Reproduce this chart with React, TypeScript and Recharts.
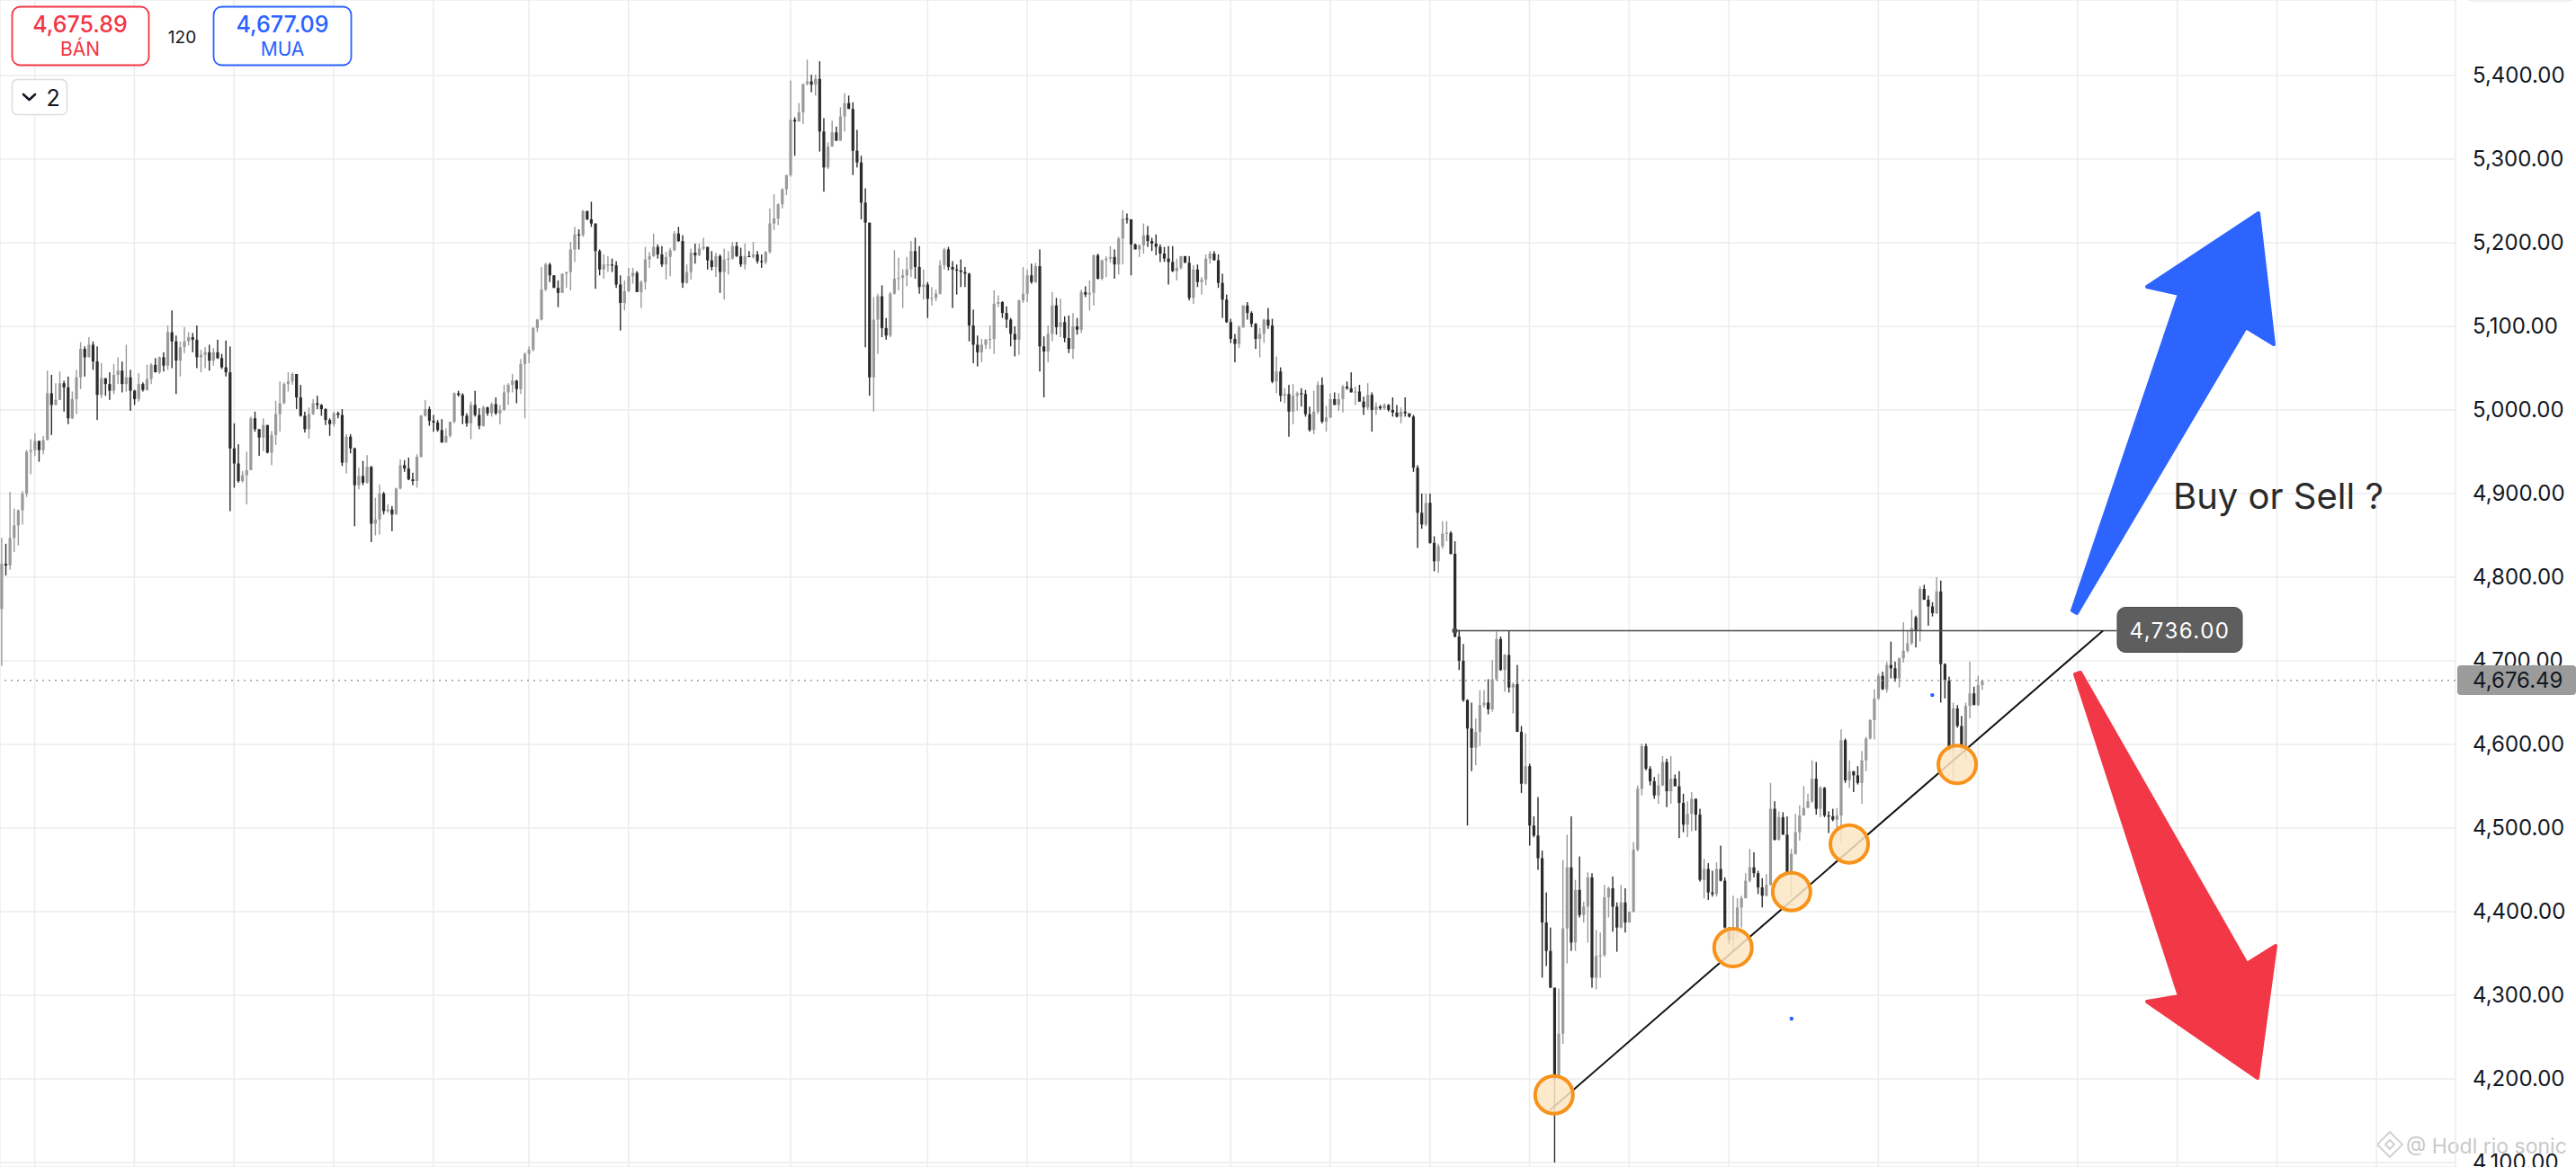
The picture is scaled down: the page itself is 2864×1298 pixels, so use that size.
import React from 'react';
import {
  ComposedChart,
  Bar,
  XAxis,
  YAxis,
  CartesianGrid,
  ReferenceLine,
  ReferenceDot,
} from 'recharts';

// Hourly gold candles, [open, high, low, close]
// first leg: rally from 4,700 to the 5,100 area
const candlesA = [
  [4762, 4847, 4694, 4816], [4816, 4840, 4802, 4814], [4814, 4902, 4809, 4847], [4847, 4882, 4830, 4862],
  [4862, 4881, 4838, 4880], [4880, 4903, 4863, 4900], [4900, 4952, 4896, 4950], [4950, 4965, 4923, 4952],
  [4952, 4972, 4945, 4963], [4963, 4963, 4938, 4952], [4952, 4969, 4947, 4964], [4964, 5047, 4964, 5020],
  [5020, 5042, 4970, 5006], [5006, 5032, 5006, 5012], [5012, 5046, 5012, 5032], [5032, 5035, 4998, 5027],
  [5027, 5040, 4983, 4990], [4990, 5022, 4989, 5013], [5013, 5048, 4995, 5039], [5039, 5081, 5025, 5073],
  [5073, 5076, 5040, 5063], [5063, 5087, 5063, 5078], [5078, 5082, 5048, 5058], [5058, 5076, 4988, 5018],
  [5018, 5056, 5014, 5038], [5038, 5038, 5017, 5031], [5031, 5045, 5012, 5023], [5023, 5055, 5019, 5042],
  [5042, 5063, 5031, 5047], [5047, 5058, 5021, 5031], [5031, 5078, 5022, 5039], [5039, 5048, 4999, 5023],
  [5023, 5024, 5006, 5013], [5013, 5044, 5010, 5031], [5031, 5033, 5022, 5024], [5024, 5054, 5023, 5037],
  [5037, 5056, 5031, 5054], [5054, 5062, 5045, 5045], [5045, 5064, 5043, 5063], [5063, 5069, 5046, 5053],
  [5053, 5101, 5048, 5093], [5093, 5119, 5050, 5082], [5082, 5089, 5019, 5059], [5059, 5082, 5040, 5075],
  [5075, 5099, 5068, 5082], [5082, 5093, 5077, 5087], [5087, 5092, 5069, 5084], [5084, 5101, 5050, 5063],
  [5063, 5072, 5045, 5066], [5066, 5075, 5050, 5069], [5069, 5078, 5047, 5059], [5059, 5074, 5053, 5069],
  [5069, 5084, 5061, 5062], [5062, 5067, 5049, 5051], [5051, 5083, 5040, 5045], [5045, 5076, 4879, 4954],
  [4954, 4984, 4907, 4936], [4936, 4959, 4913, 4915], [4915, 4927, 4913, 4922], [4922, 4950, 4887, 4928],
  [4928, 4992, 4928, 4990], [4990, 4998, 4974, 4977], [4977, 4977, 4945, 4967], [4967, 4990, 4951, 4982],
  [4982, 4982, 4948, 4949], [4949, 4975, 4934, 4970], [4970, 5011, 4958, 4995], [4995, 5034, 4974, 5008],
  [5008, 5033, 5007, 5031], [5031, 5045, 5022, 5034], [5034, 5045, 5030, 5043], [5043, 5043, 5001, 5015],
  [5015, 5030, 4992, 4993], [4993, 4998, 4973, 4977], [4977, 5003, 4966, 4995], [4995, 5013, 4994, 5008],
  [5008, 5017, 5001, 5006], [5006, 5007, 4993, 5001], [5001, 5002, 4982, 4988], [4988, 4990, 4969, 4983],
  [4983, 4998, 4980, 4996], [4996, 4998, 4990, 4994], [4994, 5001, 4933, 4937],
];

// dip to 4,850 and climb to 5,200
const candlesB = [
  [4937, 4971, 4924, 4968], [4968, 4971, 4948, 4954], [4954, 4955, 4861, 4910], [4910, 4931, 4905, 4921],
  [4921, 4939, 4910, 4913], [4913, 4946, 4912, 4932], [4932, 4933, 4842, 4864], [4864, 4895, 4850, 4869],
  [4869, 4911, 4851, 4900], [4900, 4902, 4875, 4879], [4879, 4887, 4877, 4881], [4881, 4885, 4855, 4875],
  [4875, 4907, 4875, 4906], [4906, 4941, 4905, 4934], [4934, 4940, 4926, 4930], [4930, 4943, 4916, 4917],
  [4917, 4925, 4910, 4915], [4915, 4947, 4907, 4944], [4944, 4994, 4943, 4993], [4993, 5012, 4992, 5001],
  [5001, 5004, 4981, 4987], [4987, 4994, 4974, 4985], [4985, 4988, 4974, 4976], [4976, 4989, 4961, 4961],
  [4961, 4978, 4961, 4969], [4969, 4986, 4967, 4986], [4986, 5021, 4984, 5020], [5020, 5023, 5016, 5018],
  [5018, 5020, 4983, 4993], [4993, 4996, 4980, 4984], [4984, 5010, 4965, 5006], [5006, 5023, 4992, 4994],
  [4994, 5002, 4977, 4981], [4981, 5005, 4980, 5003], [5003, 5004, 4993, 4996], [4996, 5009, 4992, 5007],
  [5007, 5015, 4994, 4996], [4996, 5006, 4983, 5000], [5000, 5030, 4999, 5021], [5021, 5032, 5006, 5030],
  [5030, 5043, 5021, 5035], [5035, 5036, 5008, 5025], [5025, 5061, 5019, 5055], [5055, 5069, 4990, 5067],
  [5067, 5076, 5056, 5072], [5072, 5099, 5070, 5098], [5098, 5109, 5093, 5108], [5108, 5171, 5107, 5144],
  [5144, 5176, 5142, 5174], [5174, 5176, 5153, 5161], [5161, 5161, 5146, 5146], [5146, 5155, 5123, 5140],
  [5140, 5163, 5140, 5163], [5163, 5165, 5146, 5165], [5165, 5201, 5143, 5192], [5192, 5219, 5177, 5210],
  [5210, 5216, 5192, 5209], [5209, 5239, 5207, 5238], [5238, 5238, 5227, 5228], [5228, 5249, 5219, 5223],
  [5223, 5223, 5145, 5190], [5190, 5192, 5161, 5168], [5168, 5186, 5157, 5174], [5174, 5184, 5165, 5174],
  [5174, 5181, 5165, 5173], [5173, 5178, 5146, 5150], [5150, 5161, 5095, 5128], [5128, 5155, 5119, 5142],
  [5142, 5170, 5141, 5160], [5160, 5170, 5151, 5164], [5164, 5166, 5141, 5141], [5141, 5155, 5122, 5153],
  [5153, 5195, 5144, 5180], [5180, 5189, 5170, 5184], [5184, 5211, 5183, 5195], [5195, 5198, 5181, 5186],
  [5186, 5196, 5171, 5174], [5174, 5189, 5156, 5183], [5183, 5194, 5160, 5191], [5191, 5214, 5190, 5211],
];

// spike to 5,419 and the flush back to 5,000
const candlesC = [
  [5211, 5219, 5201, 5202], [5202, 5209, 5146, 5152], [5152, 5174, 5151, 5165], [5165, 5193, 5156, 5188],
  [5188, 5199, 5175, 5185], [5185, 5199, 5184, 5193], [5193, 5206, 5191, 5195], [5195, 5195, 5168, 5179],
  [5179, 5190, 5167, 5171], [5171, 5188, 5159, 5184], [5184, 5186, 5140, 5165], [5165, 5193, 5132, 5180],
  [5180, 5190, 5162, 5181], [5181, 5201, 5180, 5196], [5196, 5201, 5183, 5184], [5184, 5194, 5171, 5174],
  [5174, 5199, 5168, 5184], [5184, 5190, 5183, 5183], [5183, 5201, 5181, 5186], [5186, 5190, 5175, 5178],
  [5178, 5186, 5170, 5177], [5177, 5190, 5174, 5189], [5189, 5241, 5187, 5223], [5223, 5258, 5215, 5229],
  [5229, 5247, 5221, 5246], [5246, 5265, 5241, 5264], [5264, 5281, 5257, 5281], [5281, 5394, 5279, 5347],
  [5347, 5350, 5304, 5345], [5345, 5367, 5345, 5356], [5356, 5390, 5342, 5390], [5390, 5419, 5388, 5393],
  [5393, 5401, 5380, 5389], [5389, 5401, 5376, 5396], [5396, 5417, 5309, 5333], [5333, 5349, 5261, 5290],
  [5290, 5320, 5288, 5315], [5315, 5346, 5315, 5332], [5332, 5339, 5322, 5322], [5322, 5362, 5322, 5351],
  [5351, 5379, 5333, 5367], [5367, 5376, 5360, 5360], [5360, 5368, 5281, 5310], [5310, 5335, 5290, 5296],
  [5296, 5304, 5228, 5248], [5248, 5265, 5075, 5224], [5224, 5224, 5017, 5039], [5039, 5135, 4998, 5108],
  [5108, 5139, 5067, 5136], [5136, 5149, 5087, 5098], [5098, 5110, 5084, 5089], [5089, 5141, 5087, 5139],
  [5139, 5191, 5138, 5157], [5157, 5182, 5143, 5158], [5158, 5168, 5122, 5161], [5161, 5183, 5148, 5168],
  [5168, 5202, 5159, 5190], [5190, 5206, 5157, 5171], [5171, 5196, 5139, 5147], [5147, 5168, 5132, 5150],
  [5150, 5153, 5110, 5133], [5133, 5147, 5125, 5134], [5134, 5144, 5130, 5139], [5139, 5179, 5138, 5173],
  [5173, 5194, 5168, 5192], [5192, 5195, 5167, 5171], [5171, 5178, 5122, 5168], [5168, 5174, 5138, 5167],
  [5167, 5180, 5147, 5165], [5165, 5171, 5147, 5163], [5163, 5164, 5082, 5101], [5101, 5120, 5056, 5078],
  [5078, 5089, 5052, 5069], [5069, 5085, 5057, 5078], [5078, 5085, 5073, 5084], [5084, 5101, 5073, 5085],
  [5085, 5143, 5067, 5127], [5127, 5137, 5123, 5129], [5129, 5130, 5110, 5116], [5116, 5124, 5098, 5108],
];

// second top near 5,240, then the slide to 5,000
const candlesD = [
  [5108, 5110, 5076, 5091], [5091, 5100, 5064, 5084], [5084, 5132, 5066, 5131], [5131, 5171, 5128, 5139],
  [5139, 5168, 5129, 5161], [5161, 5175, 5151, 5153], [5153, 5176, 5152, 5172], [5172, 5192, 5046, 5076],
  [5076, 5088, 5015, 5070], [5070, 5101, 5057, 5091], [5091, 5141, 5082, 5125], [5125, 5134, 5090, 5099],
  [5099, 5133, 5087, 5105], [5105, 5112, 5081, 5086], [5086, 5113, 5068, 5073], [5073, 5116, 5061, 5100],
  [5100, 5110, 5090, 5096], [5096, 5144, 5092, 5141], [5141, 5148, 5135, 5138], [5138, 5155, 5119, 5140],
  [5140, 5186, 5125, 5185], [5185, 5187, 5156, 5157], [5157, 5180, 5155, 5179], [5179, 5184, 5159, 5181],
  [5181, 5196, 5176, 5183], [5183, 5192, 5157, 5174], [5174, 5207, 5162, 5205], [5205, 5239, 5174, 5229],
  [5229, 5235, 5223, 5228], [5228, 5228, 5161, 5198], [5198, 5199, 5192, 5192], [5192, 5198, 5183, 5197],
  [5197, 5223, 5187, 5209], [5209, 5220, 5195, 5202], [5202, 5206, 5190, 5199], [5199, 5210, 5185, 5195],
  [5195, 5198, 5177, 5187], [5187, 5195, 5177, 5181], [5181, 5196, 5150, 5177], [5177, 5196, 5165, 5166],
  [5166, 5181, 5155, 5170], [5170, 5184, 5168, 5184], [5184, 5184, 5176, 5176], [5176, 5184, 5131, 5134],
  [5134, 5173, 5127, 5168], [5168, 5174, 5147, 5153], [5153, 5159, 5138, 5156], [5156, 5186, 5149, 5181],
  [5181, 5190, 5175, 5187], [5187, 5190, 5179, 5179], [5179, 5186, 5146, 5152], [5152, 5163, 5110, 5132],
  [5132, 5138, 5104, 5105], [5105, 5109, 5080, 5085], [5085, 5091, 5057, 5079], [5079, 5101, 5074, 5099],
  [5099, 5125, 5098, 5125], [5125, 5129, 5108, 5116], [5116, 5118, 5099, 5103], [5103, 5104, 5073, 5085],
  [5085, 5098, 5063, 5091], [5091, 5109, 5080, 5108], [5108, 5122, 5097, 5101], [5101, 5109, 5032, 5034],
  [5034, 5064, 5020, 5046], [5046, 5051, 5010, 5017], [5017, 5026, 5008, 5019], [5019, 5030, 4968, 4998],
  [4998, 5031, 4983, 5017], [5017, 5022, 4999, 5020], [5020, 5026, 5004, 5019], [5019, 5024, 4992, 4995],
  [4995, 5004, 4974, 4976], [4976, 5023, 4971, 4998], [4998, 5034, 4995, 5030], [5030, 5039, 4984, 4986],
  [4986, 5005, 4974, 4991], [4991, 5020, 4990, 5013], [5013, 5021, 5006, 5006], [5006, 5020, 4999, 5013],
];

// breakdown to the 4,100 low and the first rebound
const candlesE = [
  [5013, 5030, 4997, 5028], [5028, 5034, 5024, 5026], [5026, 5045, 5021, 5021], [5021, 5028, 5006, 5022],
  [5022, 5030, 5010, 5010], [5010, 5016, 4994, 5003], [5003, 5032, 5000, 5018], [5018, 5021, 4974, 5000],
  [5000, 5009, 4994, 5004], [5004, 5006, 5000, 5002], [5002, 5008, 5000, 5006], [5006, 5007, 4998, 5000],
  [5000, 5015, 4992, 4997], [4997, 5006, 4991, 4992], [4992, 5003, 4984, 4998], [4998, 5015, 4992, 4996],
  [4996, 4996, 4991, 4992], [4992, 4994, 4926, 4931], [4931, 4934, 4835, 4877], [4877, 4900, 4858, 4863],
  [4863, 4900, 4861, 4889], [4889, 4900, 4840, 4841], [4841, 4849, 4807, 4819], [4819, 4840, 4805, 4837],
  [4837, 4867, 4834, 4852], [4852, 4867, 4843, 4853], [4853, 4855, 4827, 4828], [4828, 4843, 4728, 4729],
  [4729, 4737, 4689, 4700], [4700, 4720, 4651, 4653], [4653, 4654, 4503, 4619], [4619, 4650, 4568, 4596],
  [4596, 4631, 4575, 4615], [4615, 4665, 4598, 4647], [4647, 4665, 4644, 4650], [4650, 4678, 4636, 4642],
  [4642, 4701, 4639, 4678], [4678, 4735, 4676, 4726], [4726, 4729, 4688, 4689], [4689, 4708, 4663, 4707],
  [4707, 4736, 4662, 4668], [4668, 4674, 4637, 4672], [4672, 4695, 4615, 4615], [4615, 4622, 4542, 4553],
  [4553, 4613, 4552, 4574], [4574, 4577, 4479, 4503], [4503, 4514, 4489, 4491], [4491, 4537, 4450, 4464],
  [4464, 4473, 4321, 4387], [4387, 4423, 4335, 4353], [4353, 4381, 4309, 4309], [4309, 4309, 4100, 4199],
  [4199, 4308, 4199, 4254], [4254, 4462, 4242, 4380], [4380, 4492, 4338, 4453], [4453, 4514, 4353, 4363],
  [4363, 4438, 4353, 4426], [4426, 4466, 4393, 4396], [4396, 4412, 4387, 4406], [4406, 4447, 4363, 4441],
  [4441, 4446, 4309, 4321], [4321, 4378, 4307, 4347], [4347, 4375, 4321, 4348], [4348, 4432, 4346, 4417],
  [4417, 4430, 4393, 4428], [4428, 4442, 4376, 4406], [4406, 4411, 4352, 4381], [4381, 4432, 4380, 4411],
  [4411, 4428, 4375, 4387], [4387, 4400, 4387, 4400], [4400, 4483, 4399, 4474], [4474, 4551, 4472, 4547],
  [4547, 4601, 4539, 4598], [4598, 4601, 4569, 4571], [4571, 4574, 4551, 4556], [4556, 4561, 4535, 4539],
  [4539, 4565, 4529, 4551], [4551, 4586, 4550, 4579], [4579, 4583, 4525, 4544], [4544, 4586, 4529, 4559],
];

// higher lows along the rising trend line
const candlesF = [
  [4559, 4564, 4550, 4550], [4550, 4568, 4488, 4530], [4530, 4541, 4495, 4504], [4504, 4532, 4489, 4517],
  [4517, 4543, 4496, 4535], [4535, 4535, 4497, 4516], [4516, 4523, 4436, 4438], [4438, 4463, 4416, 4451],
  [4451, 4458, 4414, 4423], [4423, 4449, 4418, 4421], [4421, 4459, 4418, 4451], [4451, 4479, 4436, 4437],
  [4437, 4441, 4380, 4381], [4381, 4381, 4361, 4366], [4366, 4419, 4353, 4377], [4377, 4416, 4368, 4405],
  [4405, 4419, 4381, 4416], [4416, 4446, 4416, 4437], [4437, 4475, 4435, 4453], [4453, 4471, 4441, 4446],
  [4446, 4449, 4421, 4429], [4429, 4440, 4405, 4419], [4419, 4445, 4418, 4432], [4432, 4554, 4431, 4523],
  [4523, 4532, 4485, 4486], [4486, 4520, 4485, 4513], [4513, 4519, 4492, 4492], [4492, 4514, 4444, 4445],
  [4445, 4475, 4418, 4469], [4469, 4517, 4468, 4495], [4495, 4527, 4485, 4515], [4515, 4550, 4515, 4524],
  [4524, 4541, 4524, 4532], [4532, 4581, 4530, 4559], [4559, 4579, 4516, 4523], [4523, 4550, 4513, 4548],
  [4548, 4549, 4513, 4515], [4515, 4520, 4494, 4514], [4514, 4523, 4508, 4510], [4510, 4524, 4497, 4515],
  [4515, 4618, 4483, 4605], [4605, 4607, 4554, 4557], [4557, 4581, 4548, 4568], [4568, 4568, 4543, 4563],
  [4563, 4574, 4552, 4554], [4554, 4592, 4529, 4581], [4581, 4609, 4568, 4607], [4607, 4630, 4606, 4629],
  [4629, 4666, 4606, 4655], [4655, 4685, 4653, 4682], [4682, 4687, 4665, 4666], [4666, 4699, 4662, 4695],
  [4695, 4723, 4679, 4691], [4691, 4699, 4675, 4679], [4679, 4704, 4668, 4703], [4703, 4746, 4698, 4712],
  [4712, 4736, 4710, 4721], [4721, 4761, 4719, 4739], [4752, 4754, 4716, 4736], [4736, 4789, 4723, 4786],
  [4786, 4791, 4773, 4773], [4773, 4778, 4742, 4765], [4765, 4770, 4753, 4757], [4757, 4800, 4756, 4783],
  [4783, 4796, 4650, 4696], [4696, 4697, 4655, 4676], [4676, 4681, 4593, 4593], [4593, 4650, 4554, 4643],
  [4643, 4647, 4620, 4622], [4622, 4634, 4593, 4597], [4597, 4650, 4582, 4646], [4646, 4699, 4631, 4661],
  [4661, 4669, 4647, 4647], [4647, 4682, 4646, 4671], [4671, 4677, 4665, 4676],
];

const priceTicks = [4100, 4200, 4300, 4400, 4500, 4600, 4700, 4800, 4900, 5000, 5100, 5200, 5300, 5400];
// candle index of each day separator (grid columns), including the empty space on the right
const dayTicks = [8, 32, 56, 80, 104, 127, 151, 190, 223, 247, 272, 296, 320, 344, 368, 392, 416, 452, 476, 500, 524, 548, 572];

const lastPrice = 4676.49;
const bidPrice = '4,675.89';
const askPrice = '4,677.09';
const spread = '120';

// drawing annotations, in candle index / price
const resistance = 4736;
const resistanceFrom = 350;
const resistanceTo = 509.4;
const trendFrom = [373, 4163];
const trendTo = [506.1, 4736];
const touches = [
  [373.9, 4181],
  [417, 4357],
  [431.1, 4424],
  [445, 4481],
  [471, 4576],
];
const strayDots = [
  [465, 4659],
  [431.1, 4272],
];
const labelAt = 524.6;

const W = 2864;
const H = 1298;
const FONT = 'Inter, "Noto Sans", Arial, sans-serif';
const UP = '#9a9a9a';
const DOWN = '#2b2b2b';

const data = [...candlesA, ...candlesB, ...candlesC, ...candlesD, ...candlesE, ...candlesF].map(
  ([o, h, l, c], i) => ({ i, o, h, l, c, range: [l, h] })
);

const fmt = (v: number) =>
  v.toLocaleString('en-US', { minimumFractionDigits: 2, maximumFractionDigits: 2 });

const Candle = (props: any) => {
  const { x, y, width, height, payload } = props;
  if (!payload || x == null) return null;
  const { o, h, l, c } = payload;
  const top = Math.min(y, y + height);
  const hgt = Math.abs(height);
  const k = hgt / Math.max(h - l, 0.0001);
  const cx = x + width / 2;
  const color = c >= o ? UP : DOWN;
  const bTop = top + (h - Math.max(o, c)) * k;
  const bBot = top + (h - Math.min(o, c)) * k;
  return (
    <g>
      <rect x={cx - 0.7} y={top} width={1.4} height={Math.max(hgt, 1)} fill={color} />
      <rect x={cx - 1.6} y={bTop} width={3.2} height={Math.max(bBot - bTop, 1.2)} fill={color} />
    </g>
  );
};

const LevelLabel = (p: any) => (
  <g>
    <rect x={p.cx - 69.5} y={p.cy - 26} width={139} height={50} rx={9} fill="#5e5e5e" stroke="#4a4a4a" strokeWidth={1} />
    <text x={p.cx} y={p.cy} dy="0.36em" textAnchor="middle" fill="#ffffff" fontSize={24} letterSpacing={1.5} fontFamily={FONT}>
      {fmt(resistance)}
    </text>
  </g>
);

const Touch = (p: any) => (
  <circle cx={p.cx} cy={p.cy} r={21} fill="#fde6c4" fillOpacity={0.85} stroke="#f7931a" strokeWidth={4} />
);

export default function App() {
  return (
    <div
      style={{
        position: 'absolute',
        left: 0,
        top: 0,
        width: W,
        height: H,
        background: '#ffffff',
        overflow: 'hidden',
        fontFamily: FONT,
      }}
    >
      {/* watermark sits under the chart */}
      <svg width={W} height={H} style={{ position: 'absolute', left: 0, top: 0 }}>
        <g stroke="#d2d2d2" strokeWidth={2} fill="none">
          <path d="M2657 1259 L2671 1273 L2657 1287 L2643 1273 Z" />
          <path d="M2657 1268 L2662 1273 L2657 1278 L2652 1273 Z" />
        </g>
        <text x={2675} y={1283} fontSize={23} fill="#c9c9c9" fontFamily={FONT}>
          @ Hodl rio sonic
        </text>
      </svg>

      <ComposedChart
        width={W}
        height={H}
        data={data}
        margin={{ top: 0, right: 0, bottom: 0, left: 0 }}
      >
        <CartesianGrid stroke="#ececec" strokeWidth={1.5} />
        <XAxis
          type="number"
          dataKey="i"
          domain={[-0.37, 591]}
          ticks={dayTicks}
          allowDataOverflow
          hide
        />
        <YAxis
          orientation="right"
          domain={[4094.6, 5490.3]}
          ticks={priceTicks}
          interval={0}
          allowDataOverflow
          width={134}
          axisLine={false}
          tickLine={false}
          tickSize={6}
          tickMargin={13}
          tickFormatter={fmt}
          tick={{ fontSize: 24, fill: '#131722', fontFamily: FONT }}
        />
        <ReferenceLine y={lastPrice} stroke="#9e9e9e" strokeWidth={1.5} strokeDasharray="2 5" />
        <Bar dataKey="range" barSize={3} shape={Candle} isAnimationActive={false} />
        <ReferenceLine
          segment={[
            { x: resistanceFrom, y: resistance },
            { x: resistanceTo, y: resistance },
          ]}
          stroke="#4a4a4a"
          strokeWidth={1.6}
          ifOverflow="visible"
        />
        <ReferenceLine
          segment={[
            { x: trendFrom[0], y: trendFrom[1] },
            { x: trendTo[0], y: trendTo[1] },
          ]}
          stroke="#111111"
          strokeWidth={2}
          ifOverflow="visible"
        />
        <ReferenceDot x={resistanceFrom} y={resistance} r={3} fill="#4a4a4a" stroke="none" />
        {touches.map(([i, p]) => (
          <ReferenceDot key={`t-${i}`} x={i} y={p} r={21} shape={Touch} />
        ))}
        {strayDots.map(([i, p]) => (
          <ReferenceDot key={`d-${i}`} x={i} y={p} r={2.2} fill="#2962ff" stroke="none" />
        ))}
        <ReferenceDot x={labelAt} y={resistance} r={1} shape={LevelLabel} ifOverflow="visible" />
      </ComposedChart>

      {/* last price tag on the price scale */}
      <div
        style={{
          position: 'absolute',
          left: 2732,
          top: 740,
          width: 132,
          height: 33,
          background: '#9b9b9b',
          borderRadius: 4,
          color: '#131722',
          fontSize: 24,
          lineHeight: '33px',
          paddingLeft: 17,
          boxSizing: 'border-box',
        }}
      >
        {fmt(lastPrice)}
      </div>

      <svg width={W} height={H} style={{ position: 'absolute', left: 0, top: 0, pointerEvents: 'none' }}>
        {/* order ticket */}
        <rect x={13.5} y={7.5} width={152} height={65} rx={9} fill="#ffffff" stroke="#f23645" strokeWidth={1.8} />
        <text x={89} y={36} textAnchor="middle" fontSize={25} fontWeight={500} fill="#f23645" fontFamily={FONT}>
          {bidPrice}
        </text>
        <text x={89} y={61.7} textAnchor="middle" fontSize={21} fill="#f23645" fontFamily={FONT}>
          BÁN
        </text>
        <text x={202.5} y={48.3} textAnchor="middle" fontSize={19} fill="#131722" fontFamily={FONT}>
          {spread}
        </text>
        <rect x={237.5} y={7.5} width={153} height={65} rx={9} fill="#ffffff" stroke="#2962ff" strokeWidth={1.8} />
        <text x={314} y={36} textAnchor="middle" fontSize={25} fontWeight={500} fill="#2962ff" fontFamily={FONT}>
          {askPrice}
        </text>
        <text x={314} y={61.7} textAnchor="middle" fontSize={21} fill="#2962ff" fontFamily={FONT}>
          MUA
        </text>
        <rect x={13.5} y={88.5} width={61} height={39} rx={6} fill="#ffffff" stroke="#dcdcdc" strokeWidth={1.5} />
        <polyline points="26,105 32.5,111 39,105" fill="none" stroke="#131722" strokeWidth={2.6} strokeLinecap="round" strokeLinejoin="round" />
        <text x={59} y={118.3} textAnchor="middle" fontSize={25} fill="#131722" fontFamily={FONT}>
          2
        </text>

        {/* top-right toolbar edge */}
        <rect x={2740.5} y={-40} width={123} height={41} rx={8} fill="none" stroke="#e3e3e3" strokeWidth={1} />

        {/* scenario arrows */}
        <polygon
          points="2304,679 2423,327 2387,319 2511,237 2528,383 2497,364 2309,682"
          fill="#2d64fe"
          stroke="#2d64fe"
          strokeWidth={4}
          strokeLinejoin="round"
        />
        <polygon
          points="2307,750 2423,1108 2387,1114 2510,1199 2530,1052 2498,1072 2313,748"
          fill="#f23747"
          stroke="#f23747"
          strokeWidth={4}
          strokeLinejoin="round"
        />
        <text x={2416} y={566} fontSize={40} fill="#2a2a2a" fontFamily={FONT}>
          Buy or Sell ?
        </text>
      </svg>
    </div>
  );
}
